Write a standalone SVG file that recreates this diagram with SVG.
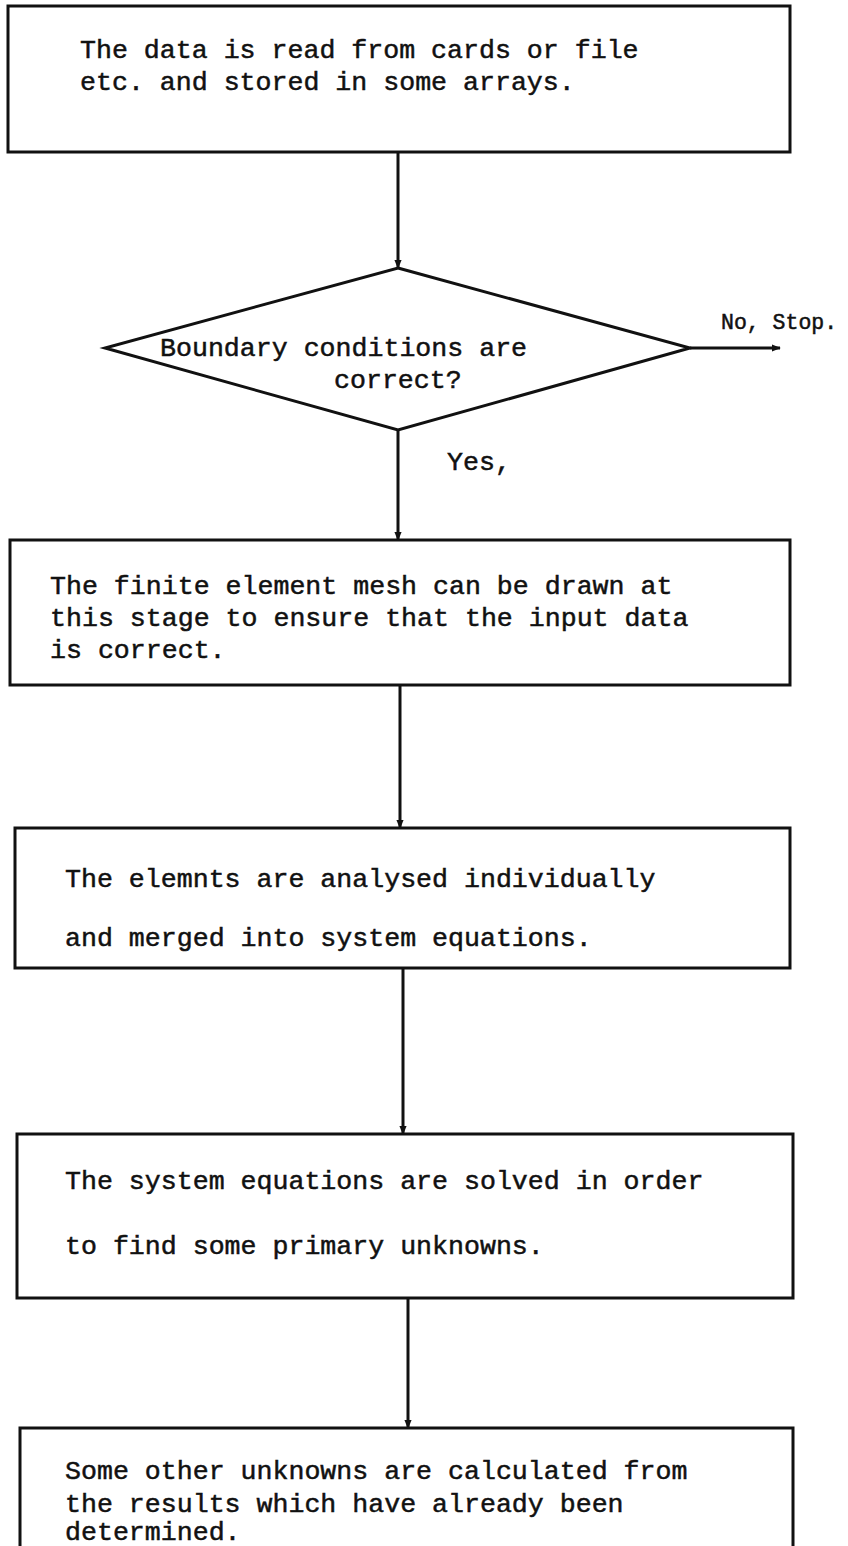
<svg xmlns="http://www.w3.org/2000/svg" width="848" height="1546" viewBox="0 0 848 1546">
<style>
.box{fill:none;stroke:#111;stroke-width:3}
.t{font-family:"Liberation Mono","Courier New",monospace;font-size:26.6px;fill:#111;stroke:#111;stroke-width:0.5}
.s{font-size:21.5px}
.c{stroke:#111;stroke-width:3;fill:none}
</style>
<defs>
<marker id="ah" viewBox="0 0 10 10" refX="9" refY="5" markerWidth="3" markerHeight="3" orient="auto"><path d="M0,1 L10,5 L0,9 z" fill="#111"/></marker>
</defs>
<rect width="848" height="1546" fill="#fff"/>
<g id="connectors">
<line class="c" x1="398" y1="152" x2="398" y2="268" marker-end="url(#ah)"/>
<line class="c" x1="398" y1="430" x2="398" y2="540" marker-end="url(#ah)"/>
<line class="c" x1="400" y1="685" x2="400" y2="828" marker-end="url(#ah)"/>
<line class="c" x1="403" y1="968" x2="403" y2="1134" marker-end="url(#ah)"/>
<line class="c" x1="408" y1="1298" x2="408" y2="1428" marker-end="url(#ah)"/>
<line class="c" x1="690" y1="348" x2="780" y2="348" marker-end="url(#ah)"/>
<text class="t s" x="721" y="329">No, Stop.</text>
<text class="t" x="447" y="470">Yes,</text>
</g>
<g id="n1">
<rect class="box" x="8" y="6" width="782" height="146"/>
<text class="t" x="80" y="58">The data is read from cards or file</text>
<text class="t" x="80" y="90">etc. and stored in some arrays.</text>
</g>
<g id="n2">
<polygon class="box" points="398,268 690,348 398,430 105,348"/>
<text class="t" x="160" y="356">Boundary conditions are</text>
<text class="t" x="334" y="388">correct?</text>
</g>
<g id="n3">
<rect class="box" x="10" y="540" width="780" height="145"/>
<text class="t" x="50" y="594">The finite element mesh can be drawn at</text>
<text class="t" x="50" y="626">this stage to ensure that the input data</text>
<text class="t" x="50" y="658">is correct.</text>
</g>
<g id="n4">
<rect class="box" x="15" y="828" width="775" height="140"/>
<text class="t" x="65" y="887">The elemnts are analysed individually</text>
<text class="t" x="65" y="946">and merged into system equations.</text>
</g>
<g id="n5">
<rect class="box" x="17" y="1134" width="776" height="164"/>
<text class="t" x="65" y="1189">The system equations are solved in order</text>
<text class="t" x="65" y="1254">to find some primary unknowns.</text>
</g>
<g id="n6">
<rect class="box" x="20" y="1428" width="773" height="120"/>
<text class="t" x="65" y="1479">Some other unknowns are calculated from</text>
<text class="t" x="65" y="1512">the results which have already been</text>
<text class="t" x="65" y="1540">determined.</text>
</g>
</svg>
